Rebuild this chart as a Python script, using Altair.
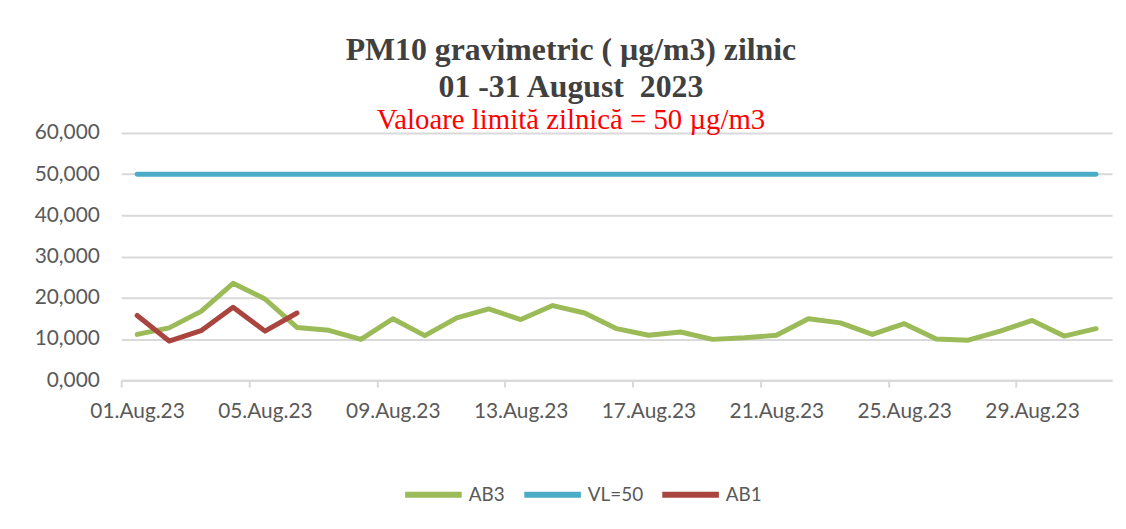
import altair as alt
import pandas as pd

days = [f"2023-08-{d:02d}T00:00:00" for d in range(1, 32)]

ab3 = [11.1, 12.7, 16.7, 23.5, 19.7, 12.8, 12.1, 9.9, 14.9, 10.8,
       15.1, 17.3, 14.7, 18.1, 16.3, 12.5, 10.9, 11.7, 9.9, 10.3,
       10.9, 14.9, 13.9, 11.1, 13.7, 10.0, 9.7, 11.9, 14.5, 10.7, 12.5]
vl50 = [50] * 31
ab1 = [15.7, 9.5, 12.0, 17.7, 11.9, 16.3]

series_names = ["AB3", "VL=50", "AB1"]
series_colors = ["#9BBB59", "#4BACC6", "#A9443E"]
tick_days = [1, 5, 9, 13, 17, 21, 25, 29]

rows = []
for name, vals in zip(series_names, [ab3, vl50, ab1]):
    for d, v in zip(days, vals):
        rows.append({"date": d, "series": name, "value": v})
df = pd.DataFrame(rows)

label_font = "Lato"
label_color = "#595959"
grid_color = "#D9D9D9"

chart = alt.Chart(df).mark_line(
    strokeWidth=5, strokeCap="round", strokeJoin="round"
).encode(
    x=alt.X(
        "date:T",
        timeUnit="yearmonthdate",
        bandPosition=0.5,
        title=None,
        scale=alt.Scale(domain=[
            alt.DateTime(year=2023, month=8, date=1),
            alt.DateTime(year=2023, month=9, date=1),
        ]),
        axis=alt.Axis(
            values=[alt.DateTime(year=2023, month=8, date=d) for d in tick_days],
            format="%d.%b.%y",
            grid=False,
            domainColor=grid_color,
            domainWidth=2,
            tickColor=grid_color,
            tickWidth=2,
            tickSize=7,
            labelPadding=14,
            labelOffset=16,
            labelFlush=False,
            labelOverlap=False,
            labelFont=label_font,
            labelFontSize=21,
            labelColor=label_color,
        ),
    ),
    y=alt.Y(
        "value:Q",
        title=None,
        scale=alt.Scale(domain=[0, 60]),
        axis=alt.Axis(
            values=[0, 10, 20, 30, 40, 50, 60],
            labelExpr="replace(format(datum.value, '.3f'), '.', ',')",
            ticks=False,
            domain=False,
            gridColor=grid_color,
            gridWidth=2,
            labelPadding=22,
            labelFont=label_font,
            labelFontSize=21,
            labelColor=label_color,
        ),
    ),
    color=alt.Color(
        "series:N",
        sort=series_names,
        scale=alt.Scale(domain=series_names, range=series_colors),
        legend=alt.Legend(
            title=None,
            orient="none",
            direction="horizontal",
            legendX=283,
            legendY=333,
            symbolType="stroke",
            symbolSize=3249,
            symbolStrokeWidth=6,
            labelFont=label_font,
            labelFontSize=19,
            labelColor=label_color,
            labelOffset=4,
            columnPadding=7,
            gridAlign="none",
        ),
    ),
    order=alt.Order("series_order:Q"),
).transform_calculate(
    series_order="indexof(['AB3','VL=50','AB1'], datum.series)"
).properties(
    width=998,
    height=249,
    autosize=alt.AutoSizeParams(type="none"),
    padding={"left": 114, "top": 124, "right": 6, "bottom": 140},
    title=alt.TitleParams(
        text=["PM10 gravimetric ( µg/m3) zilnic", "01 -31 August \u00a02023"],
        subtitle="Valoare limită zilnică = 50 µg/m3",
        anchor="middle",
        dx=-46,
        offset=-14,
        font="Liberation Serif",
        fontSize=32,
        fontWeight="bold",
        color="#404040",
        lineHeight=37,
        subtitleFont="Liberation Serif",
        subtitleFontSize=29,
        subtitleColor="#FF0000",
        subtitlePadding=2,
    ),
).configure_view(stroke=None)

chart.save("out.html", embed_options={"renderer": "svg", "actions": False})
